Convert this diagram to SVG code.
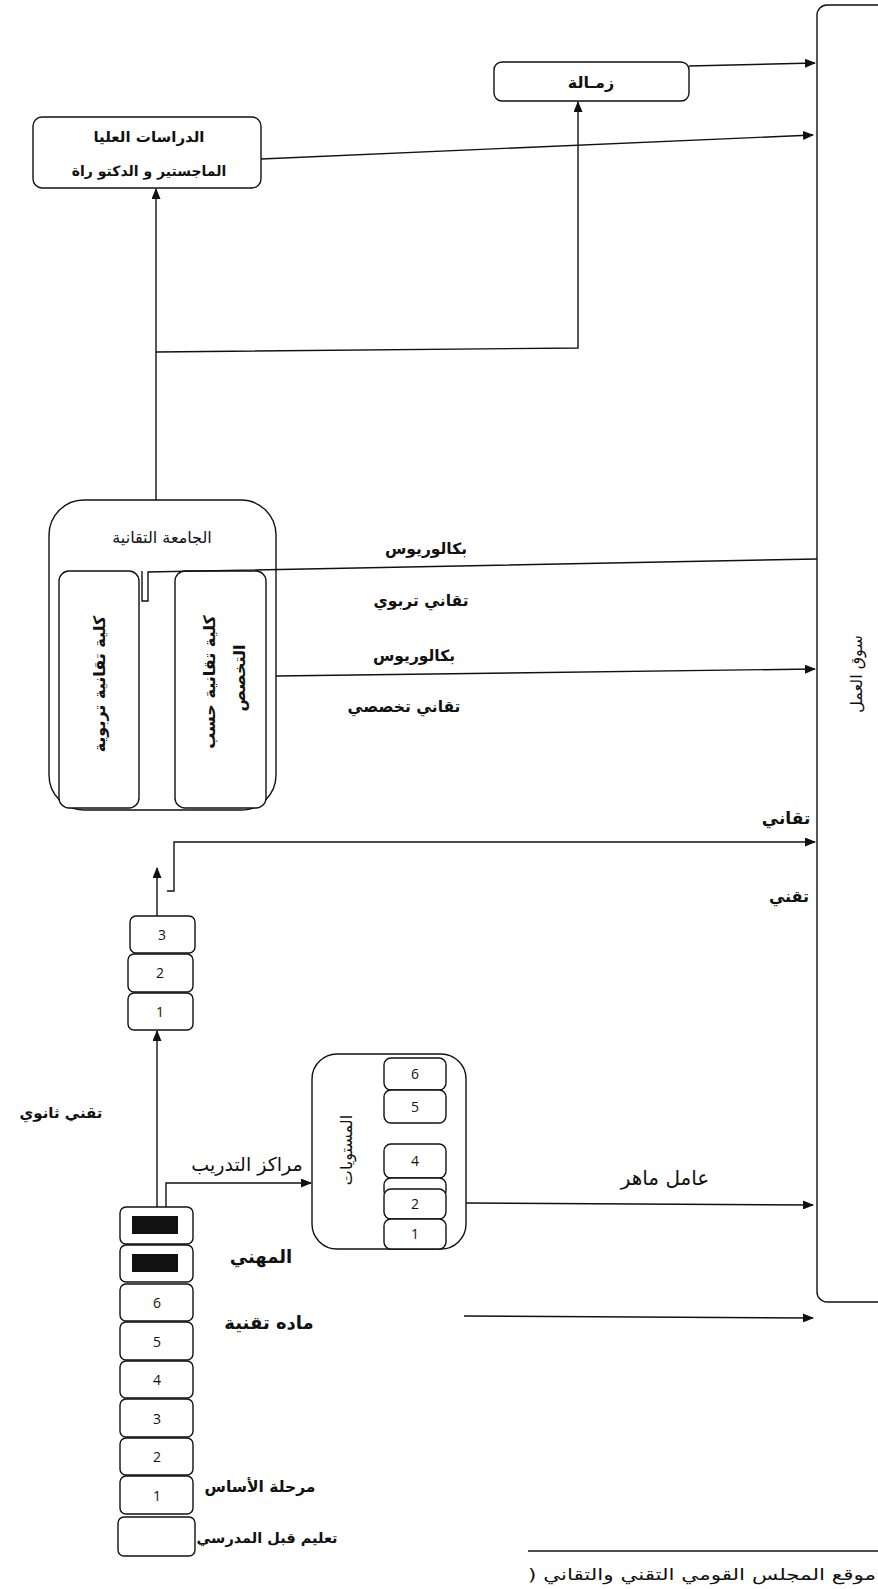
<svg xmlns="http://www.w3.org/2000/svg" width="878" height="1589" viewBox="0 0 878 1589">
<style>
.box{fill:#fff;stroke:#111;stroke-width:1.4}
.ln{fill:none;stroke:#111;stroke-width:1.4}
.ar{font-family:"DejaVu Sans",sans-serif;fill:#111;text-anchor:middle}
.b{font-weight:bold}
.num{font-family:"Open Sans","Liberation Sans",sans-serif;font-size:14px;fill:#111;text-anchor:middle}
</style>
<defs>
<marker id="arr" markerUnits="userSpaceOnUse" markerWidth="11" markerHeight="9" refX="10" refY="4.5" orient="auto">
<path d="M0,0 L11,4.5 L0,9 z" fill="#111"/>
</marker>
</defs>
<rect width="878" height="1589" fill="#fff"/>

<g id="market">
<rect class="box" x="817" y="5" width="90" height="1297" rx="10"/>
<text class="ar" font-size="16" transform="translate(862,674) rotate(-90)">سوق العمل</text>
</g>

<g id="zamala">
<rect class="box" x="494" y="62" width="195" height="39" rx="8"/>
<text class="ar b" font-size="16" x="591" y="88">زمـالة</text>
</g>

<g id="postgrad">
<rect class="box" x="33" y="117" width="228" height="71" rx="9"/>
<text class="ar b" font-size="15" x="149" y="142">الدراسات العليا</text>
<text class="ar b" font-size="14" x="149" y="176">الماجستير و الدكتو راة</text>
</g>

<g id="university">
<rect class="box" x="49" y="500" width="227" height="310" rx="35"/>
<text class="ar" font-size="16" x="162" y="543">الجامعة التقانية</text>
</g>

<g id="college-edu">
<rect class="box" x="59" y="571" width="80" height="237" rx="10"/>
<text class="ar b" font-size="16" transform="translate(105,684) rotate(-90)">كلية تقانية تربوية</text>
</g>

<g id="college-spec">
<rect class="box" x="175" y="571" width="91" height="237" rx="10"/>
<text class="ar b" font-size="16" transform="translate(215,682) rotate(-90)"><tspan x="0" y="0">كلية تقانية حسب</tspan><tspan x="4" y="30">التخصص</tspan></text>
</g>

<g id="stack-upper">
<rect class="box" x="130" y="916" width="65" height="37" rx="6"/>
<text class="num" x="162" y="940">3</text>
<rect class="box" x="128" y="954" width="65" height="38" rx="6"/>
<text class="num" x="160" y="978">2</text>
<rect class="box" x="128" y="993" width="65" height="37" rx="6"/>
<text class="num" x="160" y="1017">1</text>
</g>

<g id="levels">
<rect class="box" x="312" y="1054" width="154" height="195" rx="25"/>
<rect class="box" x="384" y="1058" width="62" height="32" rx="7"/>
<text class="num" x="415" y="1079">6</text>
<rect class="box" x="384" y="1090" width="62" height="33" rx="7"/>
<text class="num" x="415" y="1112">5</text>
<rect class="box" x="384" y="1144" width="62" height="34" rx="7"/>
<text class="num" x="415" y="1166">4</text>
<rect class="box" x="384" y="1178" width="62" height="20" rx="7"/>
<rect class="box" x="384" y="1189" width="62" height="30" rx="7"/>
<text class="num" x="415" y="1209">2</text>
<rect class="box" x="384" y="1219" width="62" height="30" rx="7"/>
<text class="num" x="415" y="1239">1</text>
<text class="ar" font-size="16" transform="translate(352,1150) rotate(-90)">المستويات</text>
</g>

<g id="stack-lower">
<rect class="box" x="120" y="1207" width="73" height="37" rx="6"/>
<rect x="132" y="1216" width="46" height="18" fill="#111"/>
<rect class="box" x="120" y="1245" width="73" height="37" rx="6"/>
<rect x="132" y="1254" width="46" height="18" fill="#111"/>
<rect class="box" x="120" y="1284" width="73" height="37" rx="6"/>
<text class="num" x="157" y="1308">6</text>
<rect class="box" x="120" y="1322" width="73" height="38" rx="6"/>
<text class="num" x="157" y="1347">5</text>
<rect class="box" x="120" y="1361" width="73" height="37" rx="6"/>
<text class="num" x="157" y="1385">4</text>
<rect class="box" x="120" y="1399" width="73" height="38" rx="6"/>
<text class="num" x="157" y="1424">3</text>
<rect class="box" x="120" y="1438" width="73" height="37" rx="6"/>
<text class="num" x="157" y="1462">2</text>
<rect class="box" x="120" y="1476" width="73" height="38" rx="6"/>
<text class="num" x="157" y="1501">1</text>
<rect class="box" x="118" y="1517" width="77" height="39" rx="6"/>
</g>

<g id="connectors">
<path class="ln" d="M689,66 L815,63" marker-end="url(#arr)"/>
<path class="ln" d="M261,159 L813,135" marker-end="url(#arr)"/>
<path class="ln" d="M156,500 L156,189" marker-end="url(#arr)"/>
<path class="ln" d="M156,352 L578,348 L578,102" marker-end="url(#arr)"/>
<path class="ln" d="M142,571 L142,601 L148,601 L148,572 L817,559"/>
<path class="ln" d="M276,676 L815,669" marker-end="url(#arr)"/>
<path class="ln" d="M157,916 L157,868" marker-end="url(#arr)"/>
<path class="ln" d="M167,891 L174,891 L174,842 L815,842" marker-end="url(#arr)"/>
<path class="ln" d="M157,1207 L157,1031" marker-end="url(#arr)"/>
<path class="ln" d="M166,1207 L166,1183 L311,1183" marker-end="url(#arr)"/>
<path class="ln" d="M466,1203 L813,1205" marker-end="url(#arr)"/>
<path class="ln" d="M464,1316 L813,1318" marker-end="url(#arr)"/>
</g>

<g id="labels">
<text class="ar b" font-size="15.5" x="426" y="554">بكالوريوس</text>
<text class="ar b" font-size="15.5" x="421" y="606">تقاني تربوي</text>
<text class="ar b" font-size="15.5" x="414" y="661">بكالوريوس</text>
<text class="ar b" font-size="15.5" x="404" y="712">تقاني تخصصي</text>
<text class="ar b" font-size="17" x="786" y="824">تقاني</text>
<text class="ar b" font-size="16" x="789" y="902">تقني</text>
<text class="ar b" font-size="15" x="61" y="1118">تقني ثانوي</text>
<text class="ar" font-size="19" x="247" y="1171">مراكز التدريب</text>
<text class="ar" font-size="20" x="665" y="1185">عامل ماهر</text>
<text class="ar b" font-size="18" x="261" y="1263">المهني</text>
<text class="ar b" font-size="18" x="269" y="1329">ماده تقنية</text>
<text class="ar b" font-size="15.5" x="260" y="1492">مرحلة الأساس</text>
<text class="ar b" font-size="14.5" x="267" y="1543">تعليم قبل المدرسي</text>
</g>

<g id="footnote">
<path class="ln" d="M528,1551 L878,1551"/>
<text font-family="DejaVu Sans,sans-serif" font-size="16" fill="#111" x="528" y="1580" textLength="348" lengthAdjust="spacingAndGlyphs">) موقع المجلس القومي التقني والتقاني</text>
</g>
</svg>
